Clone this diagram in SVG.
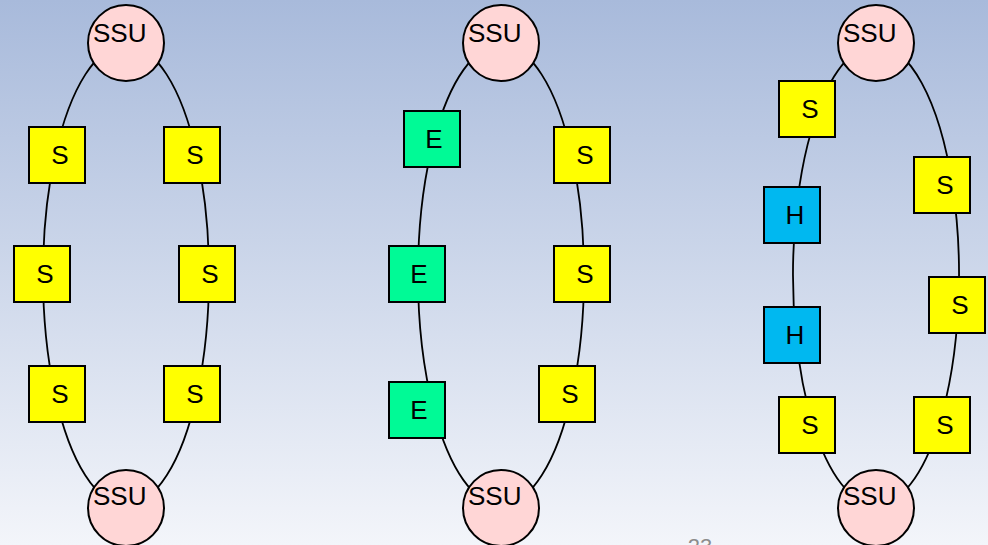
<svg xmlns="http://www.w3.org/2000/svg" width="988" height="545" viewBox="0 0 988 545">
  <defs>
    <linearGradient id="bg" x1="0" y1="0" x2="0" y2="1">
      <stop offset="0" stop-color="#a8badb"/>
      <stop offset="1" stop-color="#f3f5fa"/>
    </linearGradient>
  </defs>
  <style>
    .link { fill: none; stroke: #000; stroke-width: 1.8; }
    .ssu { fill: #ffd6d6; stroke: #000; stroke-width: 2; }
    .box { stroke: #000; stroke-width: 2; }
    .s { fill: #ffff00; }
    .e { fill: #00fa96; }
    .h { fill: #00b8f0; }
    text { font-family: "Liberation Sans", Arial, sans-serif; font-size: 26px; fill: #000; }
    .lbl { text-anchor: middle; }
    .pg { font-size: 22px; fill: #8c8c8c; text-anchor: middle; }
  </style>

  <rect width="988" height="545" fill="url(#bg)"/>

  <!-- ring links: arcs of one ellipse per ring (rx 83, ry 230, centre y 275) -->
  <g id="connectors">
    <!-- ring 1 -->
    <path class="link" d="M126 45 A83 230 0 0 0 55.2 155"/>
    <path class="link" d="M55.2 155 A83 230 0 0 0 43 274"/>
    <path class="link" d="M43 274 A83 230 0 0 0 55 394"/>
    <path class="link" d="M55 394 A83 230 0 0 0 126 505"/>
    <path class="link" d="M126 45 A83 230 0 0 1 196.8 155"/>
    <path class="link" d="M196.8 155 A83 230 0 0 1 209 274"/>
    <path class="link" d="M209 274 A83 230 0 0 1 197 394"/>
    <path class="link" d="M197 394 A83 230 0 0 1 126 505"/>
    <!-- ring 2 -->
    <path class="link" d="M501 45 A83 230 0 0 0 434.1 139"/>
    <path class="link" d="M434.1 139 A83 230 0 0 0 418 274"/>
    <path class="link" d="M418 274 A83 230 0 0 0 433.8 410"/>
    <path class="link" d="M433.8 410 A83 230 0 0 0 501 505"/>
    <path class="link" d="M501 45 A83 230 0 0 1 571.8 155"/>
    <path class="link" d="M571.8 155 A83 230 0 0 1 584 274"/>
    <path class="link" d="M584 274 A83 230 0 0 1 572 394"/>
    <path class="link" d="M572 394 A83 230 0 0 1 501 505"/>
    <!-- ring 3 -->
    <path class="link" d="M876 45 A83 230 0 0 0 818.6 109"/>
    <path class="link" d="M818.6 109 A83 230 0 0 0 795.9 215"/>
    <path class="link" d="M795.9 215 A83 230 0 0 0 795.9 335"/>
    <path class="link" d="M795.9 335 A83 230 0 0 0 813.1 425"/>
    <path class="link" d="M813.1 425 A83 230 0 0 0 876 505"/>
    <path class="link" d="M876 45 A83 230 0 0 1 952.4 185"/>
    <path class="link" d="M952.4 185 A83 230 0 0 1 958.3 305"/>
    <path class="link" d="M958.3 305 A83 230 0 0 1 938.9 425"/>
    <path class="link" d="M938.9 425 A83 230 0 0 1 876 505"/>
  </g>

  <!-- ring 1 -->
  <g id="r1-ssu-top"><circle class="ssu" cx="126" cy="43" r="38"/><text x="93" y="42">SSU</text></g>
  <g id="r1-ssu-bottom"><circle class="ssu" cx="126" cy="508" r="38"/><text x="93" y="505">SSU</text></g>
  <g id="r1-s1"><rect class="box s" x="29" y="127" width="56" height="56"/><text class="lbl" x="60" y="164">S</text></g>
  <g id="r1-s2"><rect class="box s" x="14" y="246" width="56" height="56"/><text class="lbl" x="45" y="283">S</text></g>
  <g id="r1-s3"><rect class="box s" x="29" y="366" width="56" height="56"/><text class="lbl" x="60" y="403">S</text></g>
  <g id="r1-s4"><rect class="box s" x="164" y="127" width="56" height="56"/><text class="lbl" x="195" y="164">S</text></g>
  <g id="r1-s5"><rect class="box s" x="179" y="246" width="56" height="56"/><text class="lbl" x="210" y="283">S</text></g>
  <g id="r1-s6"><rect class="box s" x="164" y="366" width="56" height="56"/><text class="lbl" x="195" y="403">S</text></g>

  <!-- ring 2 -->
  <g id="r2-ssu-top"><circle class="ssu" cx="501" cy="43" r="38"/><text x="468" y="42">SSU</text></g>
  <g id="r2-ssu-bottom"><circle class="ssu" cx="501" cy="508" r="38"/><text x="468" y="505">SSU</text></g>
  <g id="r2-e1"><rect class="box e" x="404" y="111" width="56" height="56"/><text class="lbl" x="434" y="148">E</text></g>
  <g id="r2-e2"><rect class="box e" x="389" y="246" width="56" height="56"/><text class="lbl" x="419" y="283">E</text></g>
  <g id="r2-e3"><rect class="box e" x="389" y="382" width="56" height="56"/><text class="lbl" x="419" y="419">E</text></g>
  <g id="r2-s1"><rect class="box s" x="554" y="127" width="56" height="56"/><text class="lbl" x="585" y="164">S</text></g>
  <g id="r2-s2"><rect class="box s" x="554" y="246" width="56" height="56"/><text class="lbl" x="585" y="283">S</text></g>
  <g id="r2-s3"><rect class="box s" x="539" y="366" width="56" height="56"/><text class="lbl" x="570" y="403">S</text></g>

  <!-- ring 3 -->
  <g id="r3-ssu-top"><circle class="ssu" cx="876" cy="43" r="38"/><text x="843" y="42">SSU</text></g>
  <g id="r3-ssu-bottom"><circle class="ssu" cx="876" cy="508" r="38"/><text x="843" y="505">SSU</text></g>
  <g id="r3-s1"><rect class="box s" x="779" y="81" width="56" height="56"/><text class="lbl" x="810" y="118">S</text></g>
  <g id="r3-h1"><rect class="box h" x="764" y="187" width="56" height="56"/><text class="lbl" x="795" y="224">H</text></g>
  <g id="r3-h2"><rect class="box h" x="764" y="307" width="56" height="56"/><text class="lbl" x="795" y="344">H</text></g>
  <g id="r3-s2"><rect class="box s" x="779" y="397" width="56" height="56"/><text class="lbl" x="810" y="434">S</text></g>
  <g id="r3-s3"><rect class="box s" x="914" y="157" width="56" height="56"/><text class="lbl" x="945" y="194">S</text></g>
  <g id="r3-s4"><rect class="box s" x="929" y="277" width="56" height="56"/><text class="lbl" x="960" y="314">S</text></g>
  <g id="r3-s5"><rect class="box s" x="914" y="397" width="56" height="56"/><text class="lbl" x="945" y="434">S</text></g>

  <!-- page number, cut by the lower edge -->
  <text class="pg" x="700" y="554">23</text>
</svg>
